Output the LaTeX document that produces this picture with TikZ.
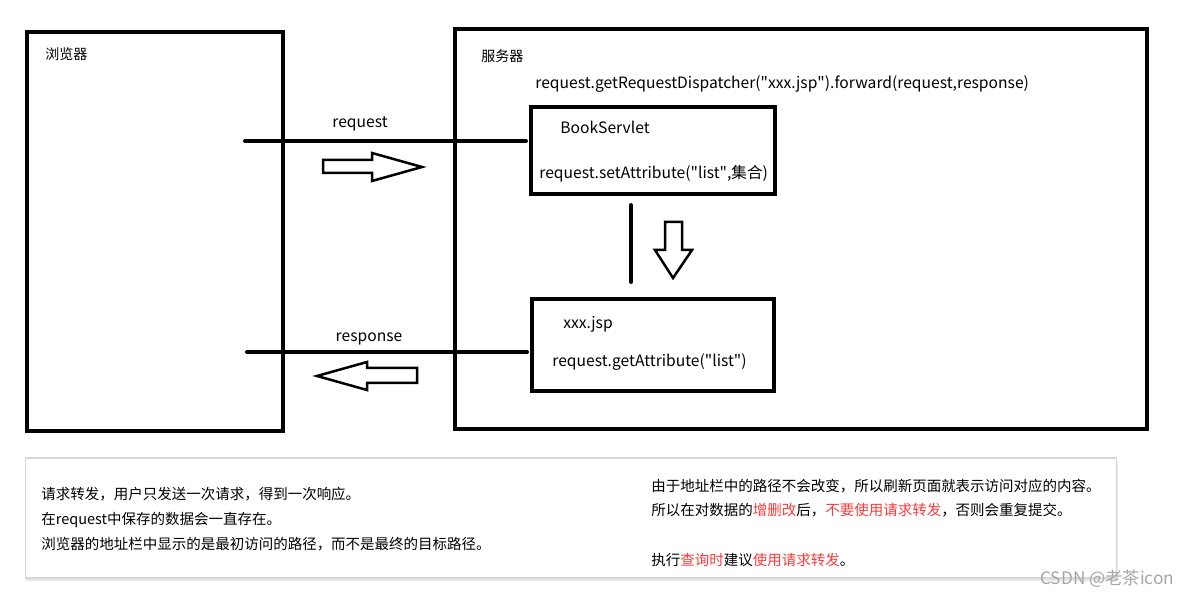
\documentclass[tikz,border=0pt]{standalone}
\usepackage{fontspec}
\setmainfont{Noto Sans CJK SC}
\usepackage{tikz}
\usetikzlibrary{positioning,calc,shadows}
\definecolor{hintred}{RGB}{250,60,60}
\definecolor{panelgray}{RGB}{215,215,215}
\newcommand{\qt}{\textquotedbl}
\tikzset{
  frame/.style={rectangle, draw=black, line width=0.08cm, inner sep=0pt},
  wire/.style={line width=0.08cm, line cap=round},
  hollow/.style={draw=black, line width=0.05cm, fill=white, line join=miter},
  code/.style={font=\fontsize{8.9}{11}\selectfont, inner sep=0pt, yshift=-0.04cm},
  title/.style={font=\fontsize{8}{10}\selectfont, inner sep=0pt, anchor=west, yshift=-0.02cm},
  note/.style={font=\fontsize{8.25}{10}\selectfont, inner sep=0pt, anchor=base west},
}

\begin{document}
\begin{tikzpicture}[x=0.02cm, y=-0.02cm]
  \useasboundingbox (0,0) rectangle (1191,597);
  % browser and server
  \node[frame, minimum width=5.12cm, minimum height=7.98cm] (browser) at (155,231.5) {};
  \node[frame, minimum width=13.84cm, minimum height=8cm]   (server)  at (801,229) {};
  \node[title] (browserlbl) at (45,53) {浏览器};
  \node[title] (serverlbl)  at (481,55) {服务器};
  \node[code, anchor=west] (forward) at (535,82) {request.getRequestDispatcher(\qt xxx.jsp\qt).forward(request,response)};
  % servlet and jsp
  \node[frame, minimum width=4.88cm, minimum height=1.74cm] (servlet) at (653,150.5) {};
  \node[frame, minimum width=4.84cm, minimum height=1.84cm, below=2.02cm of servlet] (jsp) {};
  \node[code, anchor=west] (servletname) at (560,125) {BookServlet};
  \node[code, anchor=west] (setattr)     at (539,172) {request.setAttribute(\qt list\qt,集合)};
  \node[code, anchor=west] (jspname)     at (563,322) {xxx.jsp};
  \node[code, anchor=west] (getattr)     at (552,360) {request.getAttribute(\qt list\qt)};
  % request / response
  \coordinate (reqA) at (245,141);
  \coordinate (reqB) at (526,141);
  \coordinate (resA) at (247,352);
  \coordinate (resB) at (527,352);
  \draw[wire] (reqA) -- (reqB);
  \draw[wire] (resA) -- (resB);
  \node[code] (reqlbl) at (360,122) {request};
  \node[code] (reslbl) at (369,337) {response};
  \draw[hollow] (323,160) -- (372,160) -- (372,153) -- (422,167) -- (372,181) -- (372,173) -- (323,173) -- cycle;
  \draw[hollow] (417,368) -- (367,368) -- (367,362) -- (317,376) -- (367,390) -- (367,383) -- (417,383) -- cycle;
  % forward
  \coordinate (fwdA) at (631,205);
  \coordinate (fwdB) at (631,282);
  \draw[wire] (fwdA) -- (fwdB);
  \draw[hollow] (665,222) -- (682,222) -- (682,250) -- (692,250) -- (673,278) -- (655,250) -- (665,250) -- cycle;
  % notes
  \node[rectangle, draw=panelgray, fill=white, line width=0.6pt, minimum width=21.84cm, minimum height=2.4cm,
        drop shadow={opacity=0.18, shadow xshift=0.6pt, shadow yshift=-1.6pt}] (panel) at (571,518) {};
  \node[note] (noteA) at (41,500) {请求转发，用户只发送一次请求，得到一次响应。};
  \node[note] (noteB) at (41,525) {在request中保存的数据会一直存在。};
  \node[note] (noteC) at (41,550) {浏览器的地址栏中显示的是最初访问的路径，而不是最终的目标路径。};
  \node[note] (noteD) at (651,492) {由于地址栏中的路径不会改变，所以刷新页面就表示访问对应的内容。};
  \node[note] (noteE) at (651,516) {所以在对数据的\textcolor{hintred}{增删改}后，\textcolor{hintred}{不要使用请求转发}，否则会重复提交。};
  \node[note] (noteF) at (651,566) {执行\textcolor{hintred}{查询时}建议\textcolor{hintred}{使用请求转发}。};
  \node[note, text=gray!70, font=\fontsize{9.8}{11}\selectfont] (mark) at (1040,585) {CSDN @老茶icon};
\end{tikzpicture}
\end{document}
